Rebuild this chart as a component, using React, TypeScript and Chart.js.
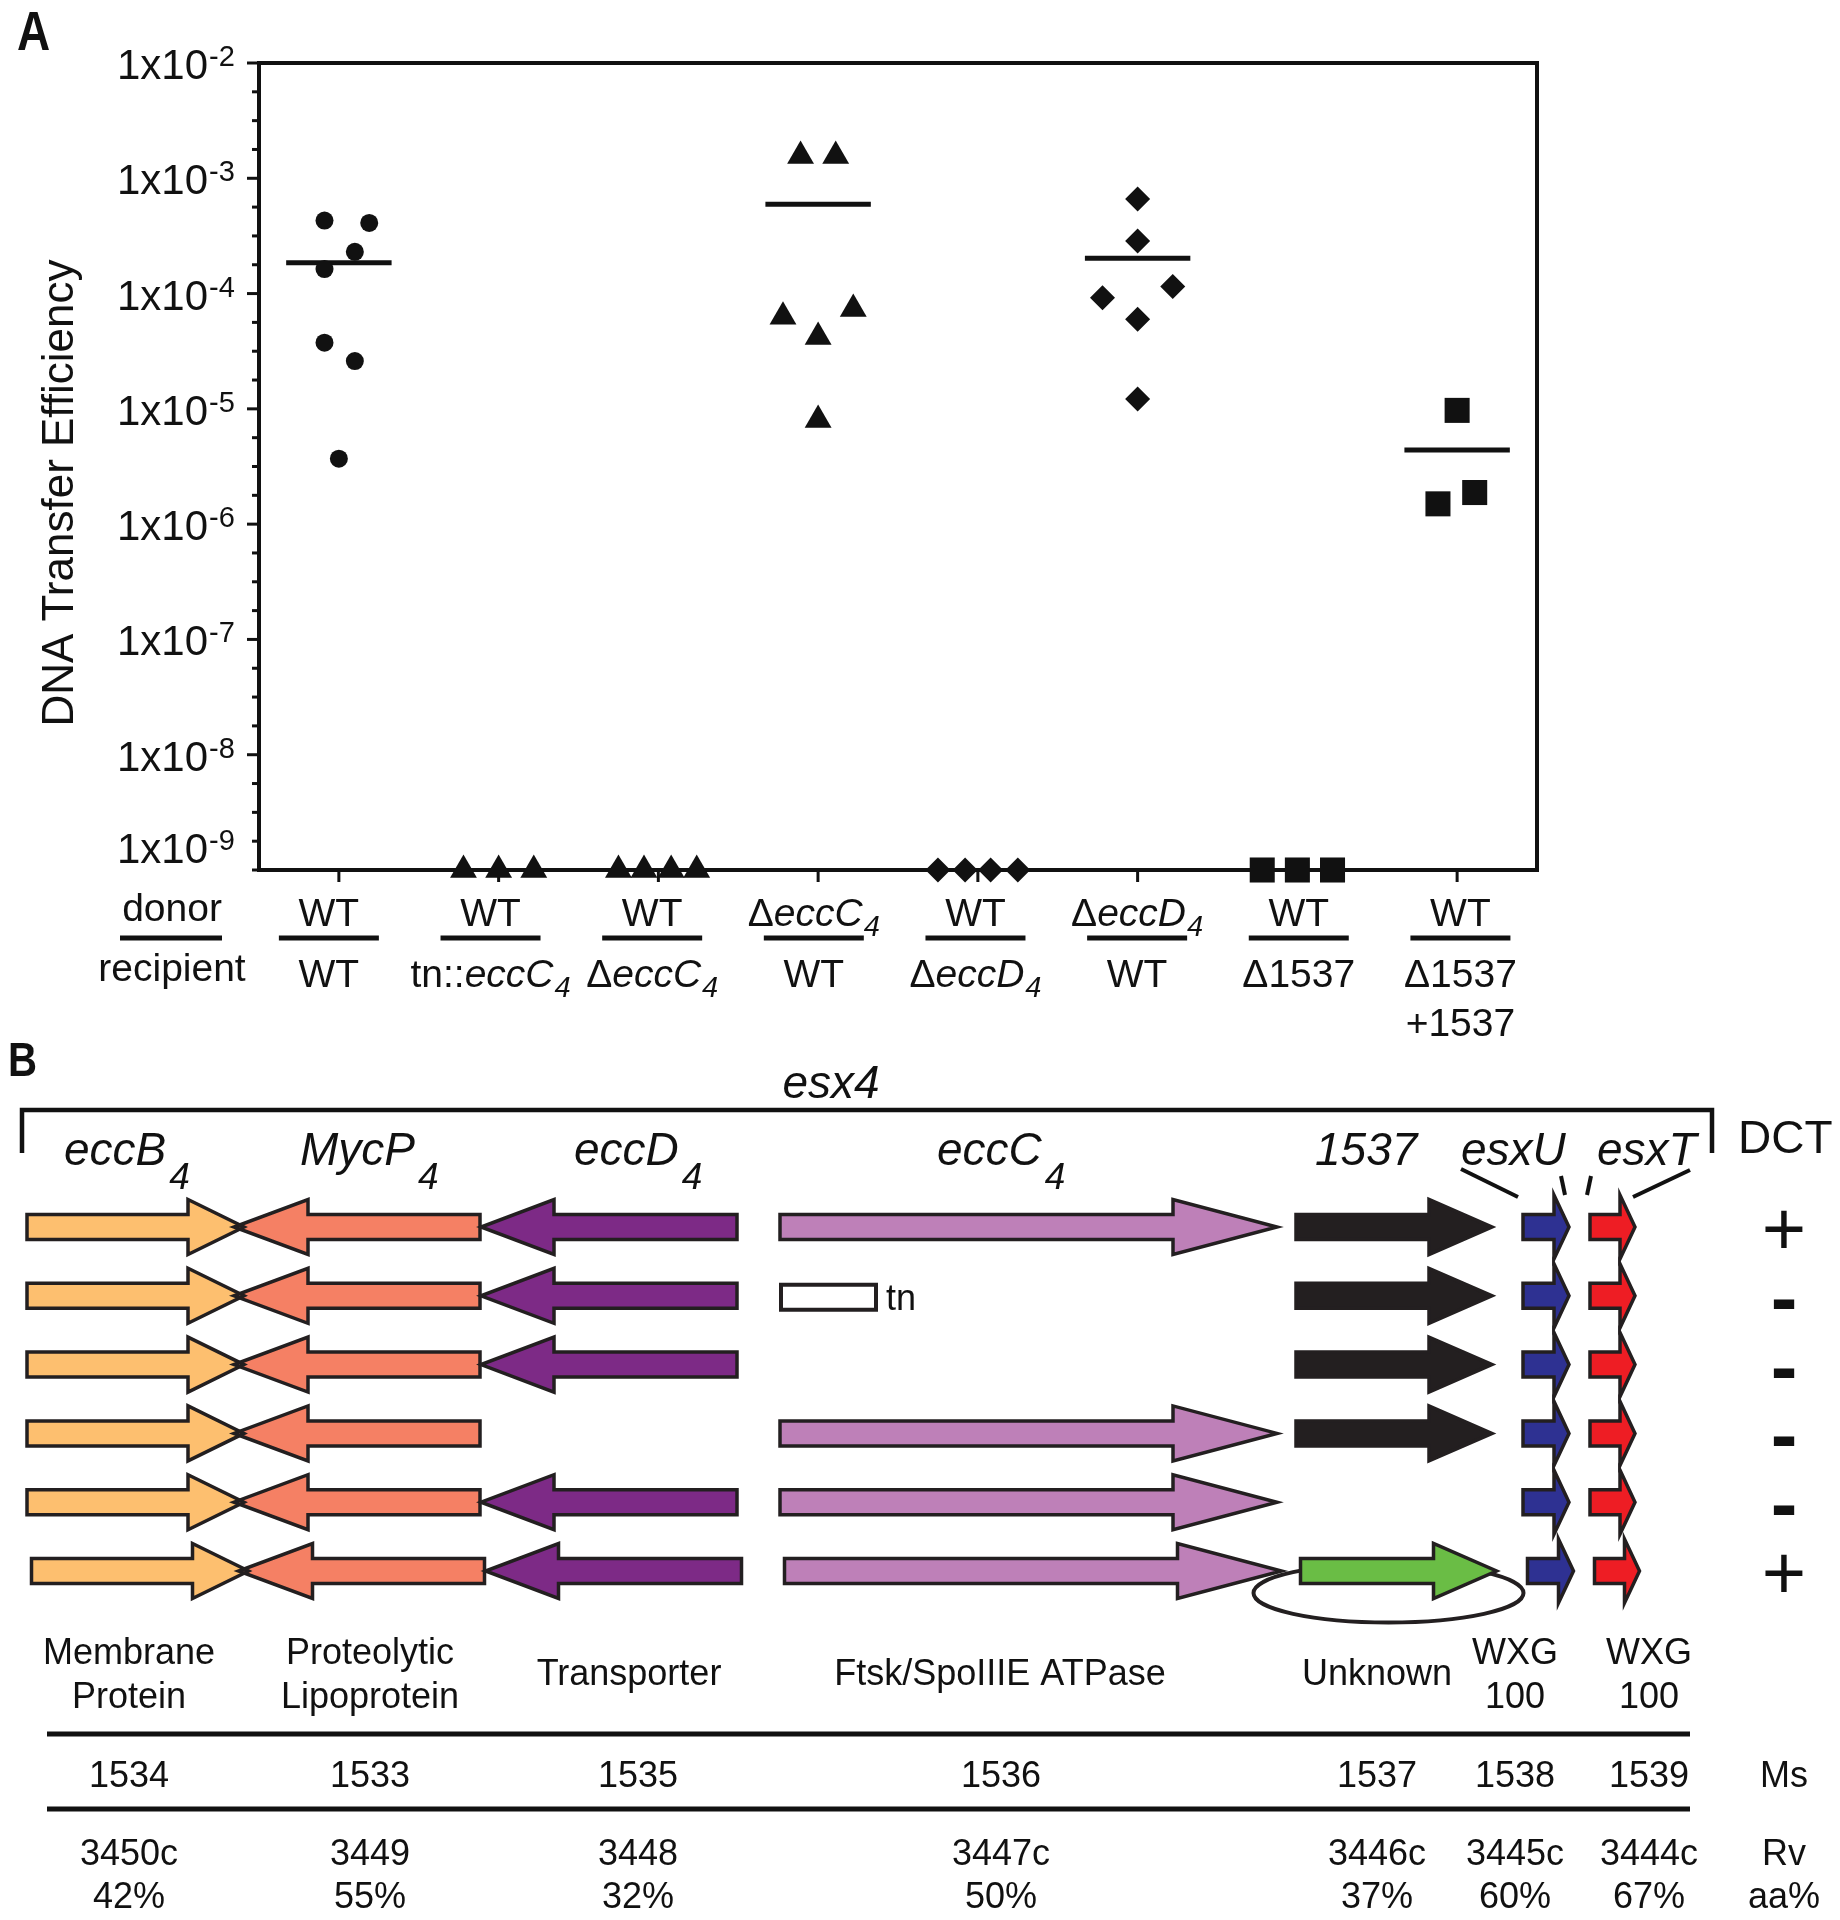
import React, { useEffect, useRef } from 'react';
import { Chart, registerables } from 'chart.js';

Chart.register(...registerables);

const FONT = '"Liberation Sans", Arial, Helvetica, sans-serif';
const PAGE_W = 1840;
const A_H = 1040;
const B_H = 880;
const INK = '#111111';

// ================= Panel A data =================
const donorLabels = ['WT', 'WT', 'WT', 'Δ*eccC*_4', 'WT', 'Δ*eccD*_4', 'WT', 'WT'];
const recipientLabels = ['WT', 'tn::*eccC*_4', 'Δ*eccC*_4', 'WT', 'Δ*eccD*_4', 'WT', 'Δ1537', 'Δ1537|+1537'];
const markerStyles = ['circle', 'triangle', 'triangle', 'triangle', 'rectRot', 'rectRot', 'rect', 'rect'];
const DETECTION_LIMIT = 1e-9;

const wtToWt = [4.3e-4, 4.1e-4, 2.3e-4, 1.63e-4, 3.75e-5, 2.6e-5, 3.7e-6];
const wtToTnEccC4 = [DETECTION_LIMIT, DETECTION_LIMIT, DETECTION_LIMIT];
const wtToDeltaEccC4 = [DETECTION_LIMIT, DETECTION_LIMIT, DETECTION_LIMIT, DETECTION_LIMIT];
const deltaEccC4ToWt = [1.56e-3, 1.56e-3, 6.3e-5, 7.35e-5, 4.2e-5, 8.0e-6];
const wtToDeltaEccD4 = [DETECTION_LIMIT, DETECTION_LIMIT, DETECTION_LIMIT, DETECTION_LIMIT];
const deltaEccD4ToWt = [6.6e-4, 2.86e-4, 1.15e-4, 9.2e-5, 6.0e-5, 1.22e-5];
const wtToDelta1537 = [DETECTION_LIMIT, DETECTION_LIMIT, DETECTION_LIMIT];
const wtToComplemented = [9.7e-6, 1.5e-6, 1.88e-6];

const groupValues = [
  wtToWt, wtToTnEccC4, wtToDeltaEccC4, deltaEccC4ToWt,
  wtToDeltaEccD4, deltaEccD4ToWt, wtToDelta1537, wtToComplemented,
];
const groupMeans: (number | null)[] = [1.85e-4, null, null, 5.96e-4, null, 2.02e-4, null, 4.4e-6];
// horizontal spread of the symbols inside each column (fraction of a column)
const groupSpread = [
  [-0.09, 0.19, 0.1, -0.09, -0.09, 0.1, 0],
  [-0.22, 0, 0.22],
  [-0.25, -0.09, 0.08, 0.24],
  [-0.11, 0.11, -0.22, 0.22, 0, 0],
  [-0.25, -0.08, 0.08, 0.25],
  [0, 0, 0.22, -0.22, 0, 0],
  [-0.22, 0, 0.22],
  [0, -0.12, 0.11],
];
const yExponents = [-2, -3, -4, -5, -6, -7, -8, -9];

// ================= Panel B data =================
const geneLabels = ['*eccB*_4', '*MycP*_4', '*eccD*_4', '*eccC*_4', '1537', 'esxU', 'esxT'];
const geneColors = ['#FDBF6F', '#F58064', '#7D2A86', '#BE80B8', '#231F20', '#2E3192', '#EE1D24'];
const complementColor = '#6ABD45';
const constructRows = [
  ['wt', 'wt', 'wt', 'wt', 'wt', 'wt', 'wt'],
  ['wt', 'wt', 'wt', 'tn', 'wt', 'wt', 'wt'],
  ['wt', 'wt', 'wt', 'del', 'wt', 'wt', 'wt'],
  ['wt', 'wt', 'del', 'wt', 'wt', 'wt', 'wt'],
  ['wt', 'wt', 'wt', 'wt', 'del', 'wt', 'wt'],
  ['wt', 'wt', 'wt', 'wt', 'comp', 'wt', 'wt'],
];
const dctResults = ['+', '-', '-', '-', '-', '+'];
const geneFunctions = [
  ['Membrane', 'Protein'], ['Proteolytic', 'Lipoprotein'], ['Transporter'],
  ['Ftsk/SpoIIIE ATPase'], ['Unknown'], ['WXG', '100'], ['WXG', '100'],
];
const msNumbers = ['1534', '1533', '1535', '1536', '1537', '1538', '1539'];
const rvNumbers = ['3450c', '3449', '3448', '3447c', '3446c', '3445c', '3444c'];
const aaIdentity = ['42%', '55%', '32%', '50%', '37%', '60%', '67%'];

// ================= layout (page coordinates) =================
// [tail, headBase, tip, bodyHalf, headHalf]
const GENE_GEOM = [
  [27, 188, 244, 12.5, 27.5],
  [480, 308, 234, 12.5, 27.5],
  [737, 554, 481, 12.5, 27.5],
  [780, 1173, 1277, 12.5, 27.5],
  [1296, 1429, 1492, 12.5, 27.5],
  [1523, 1554, 1569, 12.5, 32],
  [1590, 1620, 1635, 12.5, 32],
];
const LABEL_LEFT = [64, 300, 574, 937, 1315, 1461, 1597];
const ROW0 = 1227;
const ROW_STEP = 68.8;
const ROW_SHIFT = [0, 0, 0, 0, 0, 4.5];
const TABLE_X = [129, 370, 638, 1001, 1377, 1515, 1649];
const FUNC_X = [129, 370, 629, 1000, 1377, 1515, 1649];

type Seg = { t: string; it: boolean; sub: boolean };
function parseRich(s: string): Seg[] {
  const out: Seg[] = [];
  const re = /\*([^*]+)\*|_([0-9A-Za-z])|([^*_]+)/g;
  let m: RegExpExecArray | null;
  while ((m = re.exec(s))) {
    if (m[1]) out.push({ t: m[1], it: true, sub: false });
    else if (m[2]) out.push({ t: m[2], it: true, sub: true });
    else out.push({ t: m[3], it: false, sub: false });
  }
  return out;
}

function drawRich(
  ctx: CanvasRenderingContext2D, text: string, x: number, baseline: number,
  o: { size: number; subSize: number; subDy: number; subGap: number; align: 'left' | 'center'; italicAll?: boolean }
) {
  const segs = parseRich(text);
  const font = (s: Seg) => `${s.it || o.italicAll ? 'italic ' : ''}${s.sub ? o.subSize : o.size}px ${FONT}`;
  const widths = segs.map((s) => {
    ctx.font = font(s);
    return ctx.measureText(s.t).width + (s.sub ? o.subGap : 0);
  });
  const total = widths.reduce((a, b) => a + b, 0);
  let cx = o.align === 'center' ? x - total / 2 : x;
  ctx.textAlign = 'left';
  ctx.textBaseline = 'alphabetic';
  segs.forEach((s, i) => {
    ctx.font = font(s);
    ctx.fillText(s.t, cx + (s.sub ? o.subGap : 0), baseline + (s.sub ? o.subDy : 0));
    cx += widths[i];
  });
}

function line(ctx: CanvasRenderingContext2D, x1: number, y1: number, x2: number, y2: number) {
  ctx.beginPath();
  ctx.moveTo(x1, y1);
  ctx.lineTo(x2, y2);
  ctx.stroke();
}

function centeredText(ctx: CanvasRenderingContext2D, t: string, cx: number, cy: number) {
  const m = ctx.measureText(t);
  ctx.textAlign = 'center';
  ctx.textBaseline = 'alphabetic';
  ctx.fillText(t, cx, cy + (m.actualBoundingBoxAscent - m.actualBoundingBoxDescent) / 2);
}

const panelAPlugin = {
  id: 'panelA',
  beforeDatasetsDraw(chart: any) {
    const ctx: CanvasRenderingContext2D = chart.ctx;
    const xs = chart.scales.x;
    const ys = chart.scales.y;
    const { left, right, top, bottom } = chart.chartArea;
    ctx.save();
    ctx.fillStyle = INK;
    ctx.strokeStyle = INK;
    ctx.lineCap = 'butt';

    // panel letter
    ctx.save();
    ctx.translate(17, 50);
    ctx.scale(0.82, 1);
    ctx.font = `bold 56px ${FONT}`;
    ctx.textAlign = 'left';
    ctx.fillText('A', 0, 0);
    ctx.restore();

    // frame
    ctx.lineWidth = 4;
    ctx.strokeRect(left, top, right - left, bottom - top);

    // y ticks (quarter decades)
    ctx.lineWidth = 3;
    for (let k = -36; k <= -8; k++) {
      const lg = k / 4;
      const py = ys.getPixelForValue(Math.pow(10, lg));
      const major = k % 4 === 0 && k > -36;
      line(ctx, left - (major ? 12 : 7), py, left, py);
    }
    // y tick labels
    yExponents.forEach((e) => {
      const lg = e === -9 ? -8.8 : e;
      const py = ys.getPixelForValue(Math.pow(10, lg));
      ctx.font = `42px ${FONT}`;
      ctx.textAlign = 'right';
      ctx.textBaseline = 'alphabetic';
      ctx.fillText('1x10', left - 51, py + 16);
      ctx.font = `29px ${FONT}`;
      ctx.textAlign = 'left';
      ctx.fillText(String(e), left - 50, py + 3);
    });

    // x ticks
    for (let i = 0; i < donorLabels.length; i++) {
      const px = xs.getPixelForValue(i);
      line(ctx, px, bottom, px, bottom + 12);
    }

    // axis title
    ctx.save();
    ctx.translate(73, 493);
    ctx.rotate(-Math.PI / 2);
    ctx.font = `44px ${FONT}`;
    ctx.textAlign = 'center';
    ctx.textBaseline = 'alphabetic';
    ctx.fillText('DNA Transfer Efficiency', 0, 0);
    ctx.restore();

    // donor / recipient table
    const rich = { size: 39, subSize: 29, subDy: 10, subGap: 1, align: 'center' as const };
    ctx.font = `39px ${FONT}`;
    ctx.textAlign = 'center';
    ctx.fillText('donor', 172, 921);
    ctx.fillText('recipient', 172, 981);
    ctx.fillRect(120, 935.5, 102, 5);
    for (let i = 0; i < donorLabels.length; i++) {
      const cx = xs.getPixelForValue(i) - 10 + i * 1.9;
      drawRich(ctx, donorLabels[i], cx, 926, rich);
      ctx.fillRect(cx - 50, 935.5, 100, 5);
      recipientLabels[i].split('|').forEach((t, j) => {
        drawRich(ctx, t, cx, 987 + j * 49, rich);
      });
    }
    ctx.restore();
  },
};

const RADII: Record<string, number> = { circle: 9, triangle: 15.5, rectRot: 12.5, rect: 17.7 };

function arrowPath(ctx: CanvasRenderingContext2D, tail: number, hb: number, tip: number, cy: number, bh: number, hh: number) {
  ctx.beginPath();
  ctx.moveTo(tail, cy - bh);
  ctx.lineTo(hb, cy - bh);
  ctx.lineTo(hb, cy - hh);
  ctx.lineTo(tip, cy);
  ctx.lineTo(hb, cy + hh);
  ctx.lineTo(hb, cy + bh);
  ctx.lineTo(tail, cy + bh);
  ctx.closePath();
}

const panelBPlugin = {
  id: 'panelB',
  afterDraw(chart: any) {
    const ctx: CanvasRenderingContext2D = chart.ctx;
    const xs = chart.scales.x;
    const ys = chart.scales.y;
    const X = (v: number) => xs.getPixelForValue(v);
    const Y = (v: number) => ys.getPixelForValue(v);
    ctx.save();
    ctx.fillStyle = INK;
    ctx.strokeStyle = INK;
    ctx.lineJoin = 'miter';

    // panel letter
    ctx.save();
    ctx.translate(X(8), Y(1076));
    ctx.scale(0.82, 1);
    ctx.font = `bold 49px ${FONT}`;
    ctx.textAlign = 'left';
    ctx.textBaseline = 'alphabetic';
    ctx.fillText('B', 0, 0);
    ctx.restore();

    // esx4 bracket
    ctx.font = `italic 46px ${FONT}`;
    ctx.textAlign = 'center';
    ctx.fillText('esx4', X(831), Y(1098));
    ctx.lineWidth = 4.5;
    ctx.beginPath();
    ctx.moveTo(X(22), Y(1153));
    ctx.lineTo(X(22), Y(1110));
    ctx.lineTo(X(1712), Y(1110));
    ctx.lineTo(X(1712), Y(1153));
    ctx.stroke();
    ctx.font = `46px ${FONT}`;
    ctx.textAlign = 'left';
    ctx.fillText('DCT', X(1738), Y(1153));

    // gene names
    geneLabels.forEach((g, i) => {
      drawRich(ctx, g, X(LABEL_LEFT[i]), Y(1165), {
        size: 46, subSize: 37, subDy: 24, subGap: 3, align: 'left', italicAll: true,
      });
    });
    // connectors to the small genes
    ctx.lineWidth = 4;
    line(ctx, X(1461), Y(1169), X(1518), Y(1197));
    line(ctx, X(1561), Y(1176), X(1565), Y(1195));
    line(ctx, X(1591), Y(1176), X(1587), Y(1195));
    line(ctx, X(1690), Y(1170), X(1633), Y(1197));

    // construct rows
    constructRows.forEach((row, r) => {
      const cy = Y(ROW0 + r * ROW_STEP);
      const dx = ROW_SHIFT[r];
      const shapes: { g: number; color: string }[] = [];
      row.forEach((state, g) => {
        if (state === 'del' || state === 'tn') return;
        shapes.push({ g, color: state === 'comp' ? complementColor : geneColors[g] });
      });
      if (row.includes('comp')) {
        ctx.lineWidth = 4;
        ctx.strokeStyle = '#231F20';
        ctx.beginPath();
        ctx.ellipse(X(1384 + dx), cy + 22, 135, 29.5, 0, 0, Math.PI * 2);
        ctx.stroke();
      }
      // fills
      shapes.forEach(({ g, color }) => {
        const [tail, hb, tip, bh, hh] = GENE_GEOM[g];
        arrowPath(ctx, X(tail + dx), X(hb + dx), X(tip + dx), cy, bh, hh);
        ctx.fillStyle = color;
        ctx.fill();
      });
      // outlines
      ctx.lineWidth = 3.5;
      ctx.strokeStyle = '#231F20';
      shapes.forEach(({ g }) => {
        const [tail, hb, tip, bh, hh] = GENE_GEOM[g];
        arrowPath(ctx, X(tail + dx), X(hb + dx), X(tip + dx), cy, bh, hh);
        ctx.stroke();
      });
      // transposon insertion
      const tnIdx = row.indexOf('tn');
      if (tnIdx >= 0) {
        const tail = GENE_GEOM[tnIdx][0] + dx;
        ctx.fillStyle = '#ffffff';
        ctx.lineWidth = 4;
        ctx.beginPath();
        ctx.rect(X(tail + 1), cy - 11, X(876) - X(tail + 1), 25);
        ctx.fill();
        ctx.stroke();
        ctx.fillStyle = INK;
        ctx.font = `36px ${FONT}`;
        ctx.textAlign = 'left';
        ctx.fillText('tn', X(886), cy + 14);
      }
      // DCT result
      ctx.fillStyle = INK;
      if (dctResults[r] === '+') {
        ctx.font = `76px ${FONT}`;
        centeredText(ctx, '+', X(1784), cy + 2);
      } else {
        ctx.font = `bold 80px ${FONT}`;
        centeredText(ctx, '-', X(1784), cy + 8);
      }
    });

    // annotation table
    ctx.fillStyle = INK;
    ctx.font = `36px ${FONT}`;
    ctx.textAlign = 'center';
    ctx.textBaseline = 'alphabetic';
    geneFunctions.forEach((lines, i) => {
      if (lines.length === 1) ctx.fillText(lines[0], X(FUNC_X[i]), Y(1685));
      else lines.forEach((t, j) => ctx.fillText(t, X(FUNC_X[i]), Y(1664 + j * 44)));
    });
    ctx.fillRect(X(47), Y(1731.5), X(1690) - X(47), 5);
    msNumbers.forEach((t, i) => ctx.fillText(t, X(TABLE_X[i]), Y(1787)));
    ctx.fillText('Ms', X(1784), Y(1787));
    ctx.fillRect(X(47), Y(1806.5), X(1690) - X(47), 5);
    rvNumbers.forEach((t, i) => ctx.fillText(t, X(TABLE_X[i]), Y(1865)));
    ctx.fillText('Rv', X(1784), Y(1865));
    aaIdentity.forEach((t, i) => ctx.fillText(t, X(TABLE_X[i]), Y(1908)));
    ctx.fillText('aa%', X(1784), Y(1908));
    ctx.restore();
  },
};

export default function App() {
  const refA = useRef<HTMLCanvasElement>(null);
  const refB = useRef<HTMLCanvasElement>(null);

  useEffect(() => {
    if (!refA.current || !refB.current) return;
    const datasets: any[] = [];
    groupValues.forEach((vals, i) => {
      datasets.push({
        label: `group ${i}`,
        data: vals.map((v, j) => ({ x: i + groupSpread[i][j], y: v })),
        pointStyle: markerStyles[i],
        pointRadius: RADII[markerStyles[i]],
        backgroundColor: INK,
        borderColor: INK,
        borderWidth: 0,
        showLine: false,
        clip: false,
      });
      const m = groupMeans[i];
      if (m !== null) {
        datasets.push({
          label: `mean ${i}`,
          data: [{ x: i - 0.33, y: m }, { x: i + 0.33, y: m }],
          showLine: true,
          borderColor: INK,
          borderWidth: 5,
          pointRadius: 0,
          clip: false,
        });
      }
    });
    const chartA = new Chart(refA.current, {
      type: 'scatter',
      data: { datasets },
      options: {
        animation: false,
        responsive: false,
        events: [],
        layout: { padding: { left: 259, right: PAGE_W - 1537, top: 63, bottom: A_H - 870 } },
        scales: {
          x: { type: 'linear', min: -0.5, max: 7.5, display: false },
          y: { type: 'logarithmic', min: 1e-9, max: 1e-2, display: false },
        },
        plugins: { legend: { display: false }, tooltip: { enabled: false } },
      },
      plugins: [panelAPlugin],
    } as any);

    const chartB = new Chart(refB.current, {
      type: 'scatter',
      data: { datasets: [] },
      options: {
        animation: false,
        responsive: false,
        events: [],
        layout: { padding: 0 },
        scales: {
          x: { type: 'linear', min: 0, max: PAGE_W, display: false },
          y: { type: 'linear', min: A_H, max: A_H + B_H, reverse: true, display: false },
        },
        plugins: { legend: { display: false }, tooltip: { enabled: false } },
      },
      plugins: [panelBPlugin],
    } as any);

    return () => {
      chartA.destroy();
      chartB.destroy();
    };
  }, []);

  return (
    <div style={{ position: 'absolute', left: 0, top: 0, width: PAGE_W, height: A_H + B_H, background: '#fff' }}>
      <canvas ref={refA} width={PAGE_W} height={A_H} style={{ display: 'block', width: PAGE_W, height: A_H }} />
      <canvas ref={refB} width={PAGE_W} height={B_H} style={{ display: 'block', width: PAGE_W, height: B_H }} />
    </div>
  );
}
